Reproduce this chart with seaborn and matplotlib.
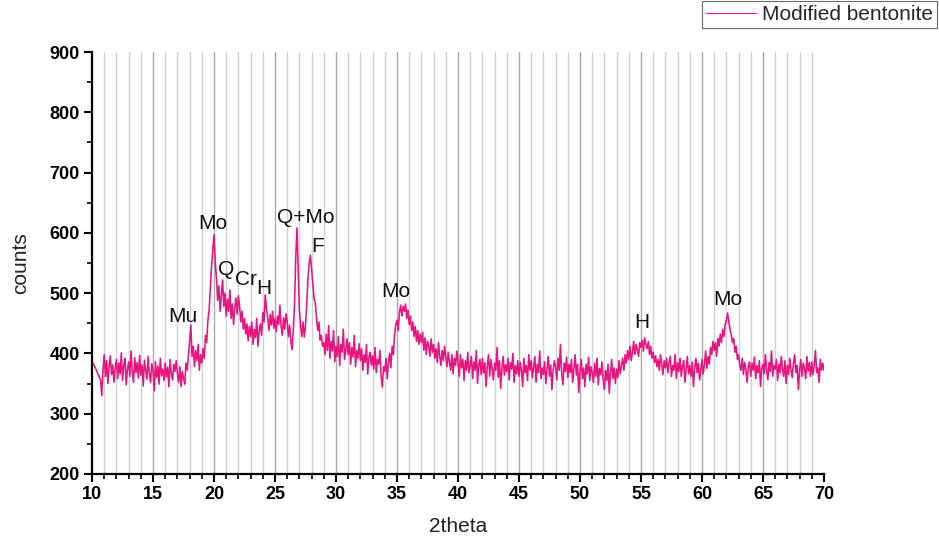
import numpy as np
import pandas as pd
import matplotlib
matplotlib.use("Agg")
import matplotlib.pyplot as plt
from matplotlib.ticker import MultipleLocator
import seaborn as sns

# XRD scan: one lead-in point, then a 0.1 degree step grid from 10.7 to 70.0
scan_start = [10.1]
scan_grid = np.round(np.arange(10.7, 70.001, 0.1), 1)
two_theta = np.concatenate([scan_start, scan_grid])

counts_lead = [384, 356, 330, 372]
counts_11 = [398, 362, 388, 350, 378, 396, 365, 381, 352, 376]
counts_12 = [390, 358, 384, 366, 401, 355, 379, 392, 348, 373]
counts_13 = [386, 362, 404, 370, 352, 393, 368, 385, 359, 397]
counts_14 = [364, 381, 346, 389, 372, 357, 395, 366, 352, 383]
counts_15 = [371, 338, 386, 360, 379, 349, 392, 363, 374, 355]
counts_16 = [384, 361, 377, 345, 390, 366, 356, 382, 370, 388]
counts_17 = [366, 352, 378, 345, 370, 358, 349, 384, 372, 395]
counts_18 = [420, 447, 395, 412, 378, 405, 388, 415, 372, 398]
counts_19 = [384, 408, 392, 430, 418, 455, 472, 510, 545, 570]
counts_20 = [597, 552, 525, 488, 512, 470, 495, 522, 478, 500]
counts_21 = [462, 490, 470, 505, 458, 482, 448, 476, 492, 465]
counts_22 = [496, 478, 452, 470, 440, 458, 432, 449, 421, 445]
counts_23 = [428, 452, 415, 440, 426, 458, 412, 437, 449, 430]
counts_24 = [468, 452, 497, 474, 460, 438, 465, 447, 470, 442]
counts_25 = [458, 436, 462, 448, 480, 445, 430, 459, 440, 466]
counts_26 = [452, 428, 447, 420, 406, 438, 482, 560, 608, 540]
counts_27 = [470, 445, 428, 452, 427, 446, 480, 525, 548, 563]
counts_28 = [540, 515, 492, 484, 460, 438, 452, 422, 430, 412]
counts_29 = [418, 398, 432, 405, 446, 392, 420, 404, 438, 386]
counts_30 = [412, 395, 428, 380, 415, 402, 440, 390, 406, 424]
counts_31 = [398, 418, 382, 410, 394, 430, 378, 405, 392, 416]
counts_32 = [388, 408, 372, 398, 385, 415, 366, 394, 402, 380]
counts_33 = [396, 374, 410, 368, 390, 382, 405, 362, 344, 378]
counts_34 = [370, 392, 358, 385, 400, 376, 412, 398, 430, 448]
counts_35 = [455, 438, 468, 480, 462, 478, 470, 482, 458, 472]
counts_36 = [448, 462, 438, 452, 428, 445, 420, 438, 415, 432]
counts_37 = [418, 435, 405, 426, 398, 420, 412, 395, 424, 402]
counts_38 = [415, 392, 408, 385, 418, 396, 380, 405, 388, 412]
counts_39 = [394, 378, 402, 385, 372, 398, 366, 392, 380, 404]
counts_40 = [385, 362, 398, 376, 390, 355, 388, 372, 402, 368]
counts_41 = [380, 395, 358, 386, 372, 405, 350, 382, 390, 365]
counts_42 = [392, 368, 385, 345, 378, 398, 362, 390, 374, 356]
counts_43 = [384, 372, 410, 360, 388, 342, 376, 395, 364, 381]
counts_44 = [370, 392, 356, 385, 374, 400, 352, 380, 366, 388]
counts_45 = [362, 385, 372, 345, 392, 368, 380, 355, 398, 372]
counts_46 = [388, 360, 378, 395, 352, 382, 368, 404, 358, 376]
counts_47 = [365, 386, 350, 374, 395, 362, 381, 340, 372, 388]
counts_48 = [378, 356, 392, 372, 415, 366, 348, 384, 370, 394]
counts_49 = [360, 382, 368, 390, 352, 376, 398, 364, 382, 335]
counts_50 = [372, 390, 358, 376, 345, 382, 366, 394, 355, 378]
counts_51 = [368, 352, 384, 362, 392, 348, 375, 365, 386, 357]
counts_52 = [340, 372, 355, 382, 334, 368, 390, 358, 376, 350]
counts_53 = [374, 360, 388, 366, 380, 392, 372, 398, 384, 405]
counts_54 = [390, 412, 388, 402, 420, 398, 415, 406, 395, 418]
counts_55 = [410, 422, 404, 426, 415, 408, 420, 398, 412, 392]
counts_56 = [402, 385, 396, 378, 390, 372, 398, 382, 365, 388]
counts_57 = [376, 392, 368, 384, 395, 362, 380, 372, 398, 358]
counts_58 = [385, 370, 392, 362, 378, 388, 352, 374, 395, 366]
counts_59 = [380, 362, 386, 345, 376, 392, 368, 384, 356, 372]
counts_60 = [390, 366, 382, 404, 375, 395, 382, 410, 398, 420]
counts_61 = [405, 418, 395, 425, 412, 432, 418, 440, 428, 448]
counts_62 = [455, 467, 452, 440, 430, 418, 425, 402, 412, 390]
counts_63 = [398, 380, 372, 392, 365, 385, 374, 352, 378, 386]
counts_64 = [362, 384, 372, 394, 358, 380, 368, 388, 345, 375]
counts_65 = [382, 366, 398, 372, 356, 385, 370, 404, 362, 380]
counts_66 = [374, 390, 355, 382, 368, 395, 375, 362, 388, 350]
counts_67 = [380, 365, 392, 372, 360, 385, 398, 368, 380, 340]
counts_68 = [372, 390, 362, 384, 375, 358, 395, 370, 385, 362]
counts_69 = [386, 365, 380, 405, 368, 376, 352, 390, 372, 384]
counts_end = [372]

counts = np.array(
    counts_lead
    + counts_11 + counts_12 + counts_13 + counts_14 + counts_15
    + counts_16 + counts_17 + counts_18 + counts_19 + counts_20
    + counts_21 + counts_22 + counts_23 + counts_24 + counts_25
    + counts_26 + counts_27 + counts_28 + counts_29 + counts_30
    + counts_31 + counts_32 + counts_33 + counts_34 + counts_35
    + counts_36 + counts_37 + counts_38 + counts_39 + counts_40
    + counts_41 + counts_42 + counts_43 + counts_44 + counts_45
    + counts_46 + counts_47 + counts_48 + counts_49 + counts_50
    + counts_51 + counts_52 + counts_53 + counts_54 + counts_55
    + counts_56 + counts_57 + counts_58 + counts_59 + counts_60
    + counts_61 + counts_62 + counts_63 + counts_64 + counts_65
    + counts_66 + counts_67 + counts_68 + counts_69 + counts_end,
    dtype=float,
)

# Phase labels and where they sit (2theta, counts)
peak_labels = ["Mu", "Mo", "Q", "Cr", "H", "Q+Mo", "F", "Mo", "H", "Mo"]
label_theta = [17.45, 19.9, 21.0, 22.6, 24.1, 27.5, 28.5, 34.9, 55.1, 62.1]
label_counts = [462, 616, 540, 522, 508, 626, 578, 502, 452, 489]

series_name = "Modified bentonite"
x_ticks = list(range(10, 71, 5))
y_ticks = list(range(200, 901, 100))

df = pd.DataFrame({"2theta": two_theta, "counts": counts, "sample": series_name})

sns.set_theme(style="ticks")
plt.rcParams["font.family"] = ["Liberation Sans", "DejaVu Sans"]

fig = plt.figure(figsize=(9.39, 5.44), dpi=100)
ax = fig.add_axes([0.098, 0.1287, 0.7795, 0.7757])

# vertical guide lines at every degree
for g in range(11, 70):
    col = "#a9a9a9" if g % 5 == 0 else "#d2d2d2"
    ax.axvline(g, color=col, lw=1.0, zorder=0)

line_color = "#e8157f"
sns.lineplot(data=df, x="2theta", y="counts", hue="sample", palette=[line_color],
             estimator=None, sort=False, lw=1.15, ax=ax, zorder=3)

for lab, tx, cy in zip(peak_labels, label_theta, label_counts):
    ax.text(tx, cy, lab, ha="center", va="center", fontsize=15, color="#111111", zorder=4)

ax.set_xlim(10, 70)
ax.set_ylim(200, 900)
ax.set_xticks(x_ticks)
ax.set_yticks(y_ticks)
ax.xaxis.set_minor_locator(MultipleLocator(1))
ax.yaxis.set_minor_locator(MultipleLocator(50))

for side in ["top", "right"]:
    ax.spines[side].set_visible(False)
for side in ["left", "bottom"]:
    ax.spines[side].set_linewidth(1.6)
    ax.spines[side].set_color("black")

ax.tick_params(axis="both", which="major", length=6, width=1.5, direction="out",
               colors="black", labelsize=13, pad=3)
ax.tick_params(axis="both", which="minor", length=3.5, width=1.2, direction="out", colors="black")
for t in ax.get_xticklabels() + ax.get_yticklabels():
    t.set_fontweight("bold")

ax.set_xlabel("2theta", fontsize=15, labelpad=10, color="#222222")
ax.set_ylabel("counts", fontsize=15, labelpad=14, color="#222222")

leg = ax.legend(loc="upper right", bbox_to_anchor=(0.998, 0.998), bbox_transform=fig.transFigure,
                fontsize=15, frameon=True, fancybox=False, handlelength=2.4,
                handletextpad=0.3, borderpad=0.2, borderaxespad=0, title=None)
leg.get_frame().set_edgecolor("#444444")
leg.get_frame().set_linewidth(0.8)
for h in leg.get_lines():
    h.set_linewidth(0.8)

fig.savefig("out.png", dpi=100, facecolor="white")
